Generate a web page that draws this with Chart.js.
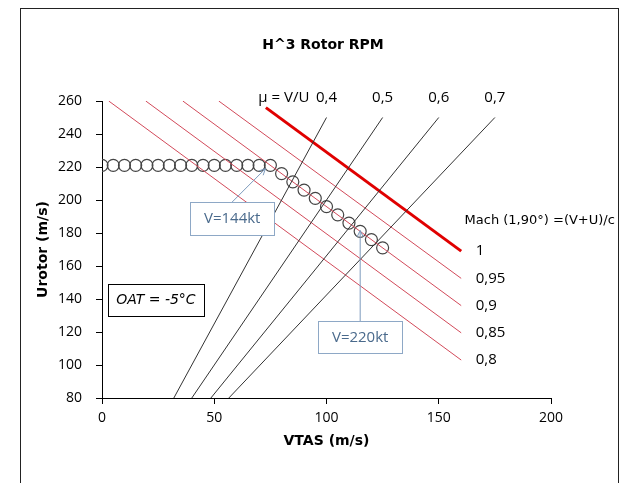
<!DOCTYPE html>
<html>
<head>
<meta charset="utf-8">
<script src="https://cdn.jsdelivr.net/npm/chart.js@4"></script>
<style>
  body { margin: 0; background: #fff; }
  #wrap { width: 630px; height: 483px; }
</style>
</head>
<body>
<div id="wrap"><canvas id="rpmChart" width="630" height="483"></canvas></div>
<script>
// Tick values
const xTicks = [0, 50, 100, 150, 200];
const yTicks = [80, 100, 120, 140, 160, 180, 200, 220, 240, 260];

// mu = V/U lines (black): V at U=80 and at U=250
const muLabels = ["0,4", "0,5", "0,6", "0,7"];
const muLowV = [32, 40, 48.5, 56.5];
const muHighV = [100, 125, 150, 175];
const muLowU = 80;
const muHighU = 250;

// Mach lines (red): start point and end point (end at V=160)
const machLabels = ["1", "0,95", "0,9", "0,85", "0,8"];
const machStartV = [73, 52, 36, 19.5, 3];
const machStartU = [256, 260, 260, 260, 260];
const machEndV = 160;
const machEndU = [169, 152.5, 136, 119.5, 103];

// Rotor speed points
const rotorV = [0, 5, 10, 15, 20, 25, 30, 35, 40, 45, 50, 55, 60, 65, 70, 75,
                80, 85, 90, 95, 100, 105, 110, 115, 120, 125];
const rotorU = [221, 221, 221, 221, 221, 221, 221, 221, 221, 221, 221, 221, 221, 221, 221, 221,
                216, 211, 206, 201, 196, 191, 186, 181, 176, 171];

const comic = "'DejaVu Sans', sans-serif";
const plain = "'Open Sans', sans-serif";

let datasets = [];

muLabels.forEach((m, i) => {
  datasets.push({
    label: "mu " + m,
    data: [{ x: muLowV[i], y: muLowU }, { x: muHighV[i], y: muHighU }],
    showLine: true,
    borderColor: "#333",
    borderWidth: 1,
    pointRadius: 0
  });
});

machLabels.forEach((m, i) => {
  datasets.push({
    label: "Mach " + m,
    data: [{ x: machStartV[i], y: machStartU[i] }, { x: machEndV, y: machEndU[i] }],
    showLine: true,
    borderColor: i === 0 ? "#e00000" : "#d24a5a",
    borderWidth: i === 0 ? 3 : 1,
    pointRadius: 0
  });
});

datasets.push({
  label: "Urotor",
  data: rotorV.map((v, i) => ({ x: v, y: rotorU[i] })),
  showLine: false,
  pointRadius: 6,
  pointBorderColor: "#444",
  pointBackgroundColor: "rgba(0,0,0,0)",
  pointBorderWidth: 1.2
});

// callouts in data units
const callouts = [
  { text: "V=144kt", cx: 58, cy: 189, w: 84, h: 33, fromX: 58, fromY: 198.8, toX: 72.8, toY: 219 },
  { text: "V=220kt", cx: 115, cy: 117, w: 84, h: 32, fromX: 115, fromY: 126.5, toX: 115, toY: 181.5 }
];

function drawArrow(ctx, x1, y1, x2, y2) {
  ctx.beginPath();
  ctx.moveTo(x1, y1);
  ctx.lineTo(x2, y2);
  ctx.stroke();
  const a = Math.atan2(y2 - y1, x2 - x1);
  ctx.beginPath();
  ctx.moveTo(x2 - 7 * Math.cos(a - 0.45), y2 - 7 * Math.sin(a - 0.45));
  ctx.lineTo(x2, y2);
  ctx.lineTo(x2 - 7 * Math.cos(a + 0.45), y2 - 7 * Math.sin(a + 0.45));
  ctx.stroke();
}

const decorations = {
  id: "decorations",
  beforeDraw(chart) {
    const ctx = chart.ctx;
    ctx.save();
    ctx.fillStyle = "#fff";
    ctx.fillRect(0, 0, chart.width, chart.height);
    ctx.restore();
  },
  afterDraw(chart) {
    const ctx = chart.ctx;
    const xs = chart.scales.x, ys = chart.scales.y;
    ctx.save();

    // outer frame
    ctx.strokeStyle = "#222";
    ctx.lineWidth = 1;
    ctx.strokeRect(20.5, 8.5, 598, 490);

    // title
    ctx.fillStyle = "#000";
    ctx.font = "bold 14px " + comic;
    ctx.textAlign = "center";
    ctx.textBaseline = "middle";
    ctx.fillText("H^3 Rotor RPM", 323, 45);

    // mu labels
    ctx.font = "15px " + plain;
    ctx.fillText("\u03bc = V/U", xs.getPixelForValue(81), ys.getPixelForValue(262));
    muLabels.forEach((m, i) => {
      ctx.fillText(m, xs.getPixelForValue(muHighV[i]), ys.getPixelForValue(262));
    });

    // Mach labels
    ctx.textAlign = "left";
    machLabels.forEach((m, i) => {
      ctx.fillText(m, xs.getPixelForValue(166.5), ys.getPixelForValue(machEndU[i]));
    });
    ctx.font = "13px " + comic;
    ctx.fillText("Mach (1,90\u00b0) =(V+U)/c", xs.getPixelForValue(161.5), ys.getPixelForValue(187.5));

    // OAT box
    const ox = xs.getPixelForValue(24), oy = ys.getPixelForValue(139.4);
    ctx.strokeStyle = "#000";
    ctx.strokeRect(Math.round(ox - 48) + 0.5, Math.round(oy - 16) + 0.5, 96, 32);
    ctx.font = "italic 14px " + comic;
    ctx.textAlign = "center";
    ctx.fillText("OAT = -5\u00b0C", ox, oy);

    // callouts
    callouts.forEach(c => {
      const cx = xs.getPixelForValue(c.cx), cy = ys.getPixelForValue(c.cy);
      ctx.strokeStyle = "#7d9bbd";
      ctx.lineWidth = 1;
      drawArrow(ctx, xs.getPixelForValue(c.fromX), ys.getPixelForValue(c.fromY),
                xs.getPixelForValue(c.toX), ys.getPixelForValue(c.toY));
      ctx.fillStyle = "#fff";
      ctx.fillRect(Math.round(cx - c.w / 2), Math.round(cy - c.h / 2), c.w, c.h);
      ctx.strokeStyle = "#8ea8c6";
      ctx.strokeRect(Math.round(cx - c.w / 2) + 0.5, Math.round(cy - c.h / 2) + 0.5, c.w, c.h);
      ctx.fillStyle = "#4a6a8c";
      ctx.font = "15px " + plain;
      ctx.fillText(c.text, cx, cy + 1);
    });

    ctx.restore();
  }
};

const ctx = document.getElementById("rpmChart").getContext("2d");
const chart = new Chart(ctx, {
  type: "scatter",
  data: { datasets: datasets },
  options: {
    responsive: false,
    animation: false,
    layout: { padding: { top: 101, right: 79, bottom: 0, left: 0 } },
    plugins: {
      legend: { display: false },
      tooltip: { enabled: false }
    },
    scales: {
      x: {
        type: "linear",
        min: 0,
        max: 200,
        afterBuildTicks: (scale) => { scale.ticks = xTicks.map(v => ({ value: v })); },
        afterFit: (scale) => { scale.height = 85; },
        grid: { drawOnChartArea: false, drawTicks: true, tickLength: 6, color: "#000" },
        border: { color: "#000", width: 1 },
        ticks: { color: "#000", font: { family: plain, size: 14 }, padding: 6 },
        title: {
          display: true,
          text: "VTAS (m/s)",
          color: "#000",
          font: { family: comic, size: 14, weight: "bold" },
          padding: { top: 0, bottom: 33 }
        }
      },
      y: {
        type: "linear",
        min: 80,
        max: 260,
        afterBuildTicks: (scale) => { scale.ticks = yTicks.map(v => ({ value: v })); },
        afterFit: (scale) => { scale.width = 102; },
        grid: { drawOnChartArea: false, drawTicks: true, tickLength: 6, color: "#000" },
        border: { color: "#000", width: 1 },
        ticks: { color: "#000", font: { family: plain, size: 14 }, padding: 14 },
        title: {
          display: true,
          text: "Urotor (m/s)",
          color: "#000",
          font: { family: comic, size: 14, weight: "bold" },
          padding: { top: 35, bottom: 0 }
        }
      }
    }
  },
  plugins: [decorations]
});
</script>
</body>
</html>
